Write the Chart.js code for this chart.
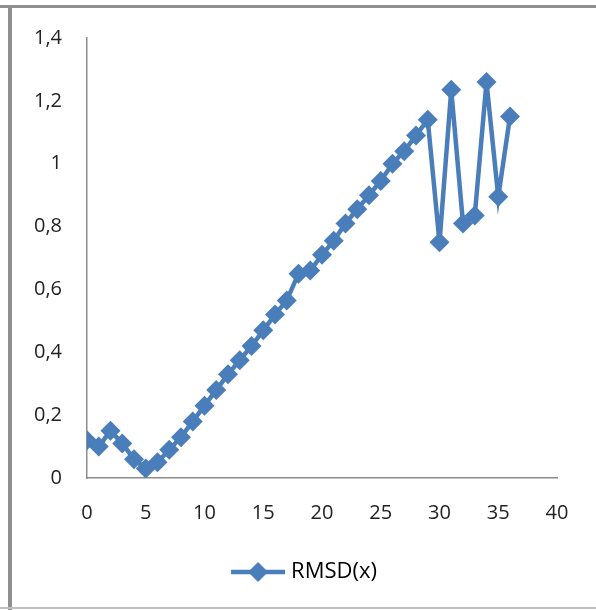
<!DOCTYPE html>
<html>
<head>
<meta charset="utf-8">
<script src="https://cdn.jsdelivr.net/npm/chart.js@4"></script>
<style>
  body { margin: 0; background: #fff; }
  #wrap { position: relative; width: 596px; height: 610px; }
  #myChart { position: absolute; left: 0; top: 0; }
  .linea { position: absolute; background: #999; }
</style>
</head>
<body>
<div id="wrap">
  <canvas id="myChart" width="596" height="610"></canvas>
  <div class="linea" style="left:0;top:5px;width:596px;height:3px;background:#8f8f8f"></div>
  <div class="linea" style="left:8px;top:5px;width:4px;height:605px;background:#8f8f8f"></div>
  <div class="linea" style="left:0;top:607px;width:596px;height:2px;background:#bdbdbd"></div>
</div>
<script>
//* datos del grafico
const pasos = [0, 1, 2, 3, 4, 5, 6, 7, 8, 9, 10, 11, 12, 13, 14, 15, 16, 17, 18,
  19, 20, 21, 22, 23, 24, 25, 26, 27, 28, 29, 30, 31, 32, 33, 34, 35, 36];
const rmsd = [0.12, 0.10, 0.15, 0.11, 0.06, 0.03, 0.05, 0.09, 0.13, 0.18, 0.23,
  0.28, 0.33, 0.375, 0.42, 0.47, 0.52, 0.565, 0.65, 0.66, 0.71, 0.755, 0.81,
  0.855, 0.90, 0.945, 1.0, 1.04, 1.09, 1.14, 0.75, 1.235, 0.81, 0.835, 1.26,
  0.895, 1.15];
const titulo = "RMSD(x)";
const colorDeLinea = "#4a7ebb";

//* icono de la leyenda: linea con rombo
const icono = document.createElement("canvas");
icono.width = 56;
icono.height = 22;
const ictx = icono.getContext("2d");
ictx.strokeStyle = colorDeLinea;
ictx.lineWidth = 4.5;
ictx.beginPath();
ictx.moveTo(1, 11);
ictx.lineTo(55, 11);
ictx.stroke();
ictx.fillStyle = colorDeLinea;
ictx.beginPath();
ictx.moveTo(28, 1);
ictx.lineTo(38, 11);
ictx.lineTo(28, 21);
ictx.lineTo(18, 11);
ictx.closePath();
ictx.fill();

const puntos = pasos.map((p, i) => ({ x: p, y: rmsd[i] }));

const fuente = { family: "'Open Sans', sans-serif", size: 20 };

//* mover la leyenda un poco a la derecha
const moverLeyenda = {
  id: "moverLeyenda",
  afterLayout(chart) {
    const ley = chart.legend;
    ley.left += 22;
    ley.right += 22;
  },
};

const config = {
  type: "scatter",
  data: {
    datasets: [
      {
        label: titulo,
        data: puntos,
        showLine: true,
        borderColor: colorDeLinea,
        backgroundColor: colorDeLinea,
        borderWidth: 4.5,
        pointStyle: "rectRot",
        pointRadius: 10,
        pointBorderWidth: 0,
        pointBackgroundColor: colorDeLinea,
      },
    ],
  },
  options: {
    responsive: false,
    animation: false,
    layout: { padding: { left: 12, right: 39, top: 38, bottom: 17 } },
    scales: {
      x: {
        type: "linear",
        min: 0,
        max: 40,
        grid: { display: false, drawTicks: false },
        border: { display: true, color: "#8c8c8c", width: 1.5 },
        ticks: { stepSize: 5, padding: 23, color: "#222", font: fuente },
        afterFit: (scale) => { scale.height = 73; },
      },
      y: {
        min: 0,
        max: 1.4,
        grid: { display: false, drawTicks: false },
        border: { display: true, color: "#8c8c8c", width: 1.5 },
        ticks: {
          stepSize: 0.2,
          padding: 25,
          color: "#222",
          font: fuente,
          callback: (v) => String(Math.round(v * 10) / 10).replace(".", ","),
        },
        afterFit: (scale) => { scale.width = 75; },
      },
    },
    plugins: {
      tooltip: { enabled: false },
      legend: {
        position: "bottom",
        labels: {
          usePointStyle: true,
          pointStyleWidth: 44,
          color: "#222",
          font: { family: "'Open Sans', sans-serif", size: 22 },
          generateLabels: (chart) => [
            {
              text: titulo,
              pointStyle: icono,
              fillStyle: colorDeLinea,
              strokeStyle: colorDeLinea,
              lineWidth: 0,
              datasetIndex: 0,
            },
          ],
        },
      },
    },
  },
  plugins: [moverLeyenda],
};

new Chart(document.getElementById("myChart"), config);
</script>
</body>
</html>
